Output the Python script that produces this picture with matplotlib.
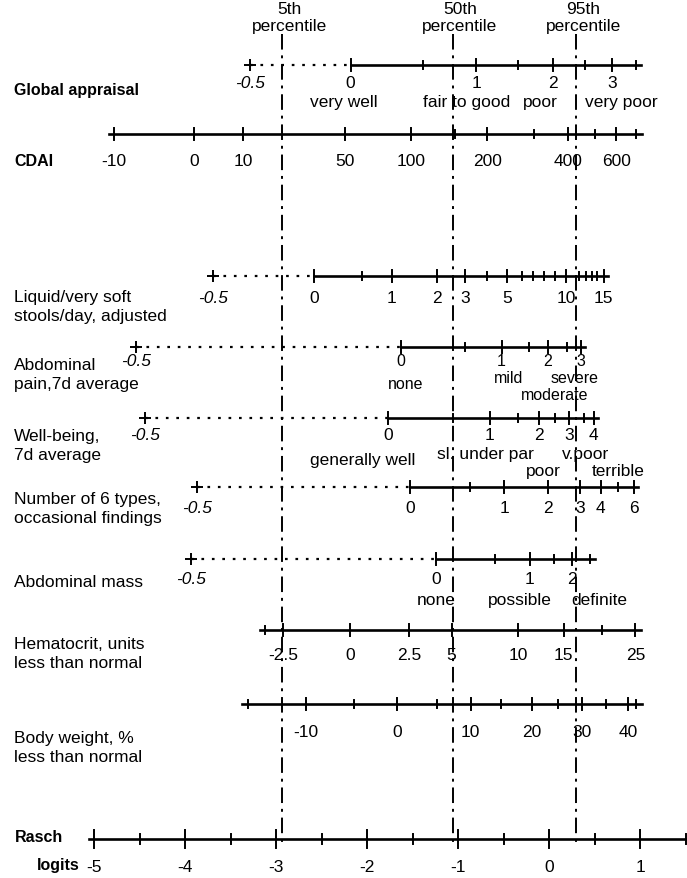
import matplotlib.pyplot as plt

plt.rcParams['font.family'] = ['Liberation Sans', 'DejaVu Sans']

# Every scale is placed on the Rasch logit axis: for each printed value
# the logit where its tick sits.

RASCH_TICKS = [-5, -4.5, -4, -3.5, -3, -2.5, -2, -1.5, -1, -0.5, 0, 0.5, 1, 1.5]
RASCH_LABELS = ['-5', '', '-4', '', '-3', '', '-2', '', '-1', '', '0', '', '1', '']

PCT_NAMES = ['5th', '50th', '95th']
PCT_LOGITS = [-2.93, -1.06, 0.30]

GA_LOGITS = [-3.29, -2.18, -1.38, -0.80, -0.34, 0.04, 0.40, 0.69, 0.96]
GA_LABELS = ['-0.5', '0', '', '1', '', '2', '', '3', '']
GA_DESC = ['very well', 'fair to good', 'poor', 'very poor']
GA_DESC_LOGITS = [-2.25, -0.90, -0.10, 0.80]

CDAI_LOGITS = [-4.78, -3.90, -3.36, -2.24, -1.52, -1.03, -0.68, -0.16, 0.21, 0.51, 0.74, 0.96]
CDAI_LABELS = ['-10', '0', '10', '50', '100', '', '200', '', '400', '', '600', '']

STOOL_LOGITS = [-3.69, -2.58, -2.05, -1.73, -1.23, -0.92, -0.68, -0.46, -0.30, -0.18,
                -0.05, 0.07, 0.19, 0.33, 0.41, 0.47, 0.53, 0.60]
STOOL_LABELS = ['-0.5', '0', '', '1', '2', '3', '', '5', '', '', '', '', '10', '', '', '', '', '15']

PAIN_LOGITS = [-4.54, -1.63, -0.92, -0.52, -0.22, -0.01, 0.20, 0.35]
PAIN_LABELS = ['-0.5', '0', '', '1', '', '2', '', '3']
PAIN_DESC = ['none', 'mild', 'moderate', 'severe']
PAIN_DESC_LOGITS = [-1.58, -0.44, 0.06, 0.28]

WELL_LOGITS = [-4.44, -1.77, -1.05, -0.65, -0.34, -0.11, 0.07, 0.22, 0.38, 0.49]
WELL_LABELS = ['-0.5', '0', '', '1', '', '2', '', '3', '', '4']
WELL_DESC = ['generally well', 'sl. under par', 'poor', 'v.poor', 'terrible']
WELL_DESC_LOGITS = [-2.05, -0.70, -0.06, 0.40, 0.76]

FIND_LOGITS = [-3.87, -1.53, -0.87, -0.49, -0.01, 0.34, 0.57, 0.76, 0.93]
FIND_LABELS = ['-0.5', '0', '', '1', '2', '3', '4', '', '6']

MASS_LOGITS = [-3.93, -1.24, -0.59, -0.21, 0.05, 0.25, 0.45]
MASS_LABELS = ['-0.5', '0', '', '1', '', '2', '']
MASS_DESC = ['none', 'possible', 'definite']
MASS_DESC_LOGITS = [-1.24, -0.32, 0.55]

HCT_LOGITS = [-3.12, -2.92, -2.19, -1.54, -1.07, -0.34, 0.16, 0.58, 0.95]
HCT_LABELS = ['', '-2.5', '0', '2.5', '5', '10', '15', '', '25']

BW_LOGITS = [-3.31, -2.67, -2.14, -1.67, -1.23, -0.86, -0.53, -0.19, 0.10, 0.36, 0.63, 0.87, 0.96]
BW_LABELS = ['', '-10', '', '0', '', '10', '', '20', '', '30', '', '40', '']

FS = 12.5
FS_BOLD = 11.5

fig = plt.figure(figsize=(6.87, 8.79), dpi=100)
ax = fig.add_axes([0, 0, 1, 1])
# x in logits (91 px per logit, 0 at px 549), y in pixel rows
ax.set_xlim(-549 / 91, 138 / 91)
ax.set_ylim(879, 0)
ax.axis('off')
left = ax.get_yaxis_transform()


def draw_scale(y, logits, labels, dotted=False, label_dy=18, major=6, minor=4, fs=FS):
    lo, hi = logits[0], logits[-1]
    if dotted:
        ax.plot([lo, logits[1]], [y, y], color='black', lw=1.6, ls=(0, (1.2, 3.5)))
        ax.plot(lo, y, marker='+', ms=8, mew=1.4, color='black')
        ax.plot([logits[1], hi + 0.05], [y, y], color='black', lw=1.9)
        ticks = list(zip(logits, labels))[1:]
    else:
        ax.plot([lo - 0.06, hi + 0.06], [y, y], color='black', lw=1.9)
        ticks = list(zip(logits, labels))
    for L, lab in ticks:
        h = major if lab else minor
        ax.plot([L, L], [y - h, y + h], color='black', lw=1.4)
    for L, lab in zip(logits, labels):
        if lab:
            italic = lab == '-0.5'
            ax.text(L, y + label_dy, lab, ha='center', va='center',
                    fontsize=FS if italic else fs, style='italic' if italic else 'normal')


def draw_desc(y, texts, logits, dys, fs=FS):
    for t, L, dy in zip(texts, logits, dys):
        ax.text(L, y + dy, t, ha='center', va='center', fontsize=fs)


def row_label(y, lines, bold=False, x=14):
    for i, s in enumerate(lines):
        ax.text(x / 687, y + i * 19, s, transform=left, ha='left', va='center',
                fontsize=FS_BOLD if bold else FS, fontweight='bold' if bold else 'normal')


# percentile guide lines
for name, L in zip(PCT_NAMES, PCT_LOGITS):
    ax.plot([L, L], [35, 845], color='black', lw=1.4, ls=(0, (8, 3, 1.5, 3)))
    ax.text(L + 0.08, 10, name, ha='center', va='center', fontsize=FS)
    ax.text(L + 0.08, 27, 'percentile', ha='center', va='center', fontsize=FS)

# Global appraisal
draw_scale(66, GA_LOGITS, GA_LABELS, dotted=True, label_dy=17)
draw_desc(66, GA_DESC, GA_DESC_LOGITS, [37] * 4)
row_label(90, ['Global appraisal'], bold=True)

# CDAI
draw_scale(135, CDAI_LOGITS, CDAI_LABELS, label_dy=27)
row_label(162, ['CDAI'], bold=True)

# Liquid stools
draw_scale(277, STOOL_LOGITS, STOOL_LABELS, dotted=True, label_dy=22)
row_label(298, ['Liquid/very soft', 'stools/day, adjusted'])

# Abdominal pain (numbers and words stacked tightly)
draw_scale(348, PAIN_LOGITS, PAIN_LABELS, dotted=True, label_dy=14, fs=11.5)
draw_desc(348, PAIN_DESC, PAIN_DESC_LOGITS, [37, 31, 48, 31], fs=11.5)
row_label(366, ['Abdominal', 'pain,7d average'])

# Well-being
draw_scale(419, WELL_LOGITS, WELL_LABELS, dotted=True, label_dy=17)
draw_desc(419, WELL_DESC, WELL_DESC_LOGITS, [42, 36, 53, 36, 53])
row_label(437, ['Well-being,', '7d average'])

# Number of findings
draw_scale(488, FIND_LOGITS, FIND_LABELS, dotted=True, label_dy=21)
row_label(500, ['Number of 6 types,', 'occasional findings'])

# Abdominal mass
draw_scale(560, MASS_LOGITS, MASS_LABELS, dotted=True, label_dy=20)
draw_desc(560, MASS_DESC, MASS_DESC_LOGITS, [41] * 3)
row_label(583, ['Abdominal mass'])

# Hematocrit
draw_scale(631, HCT_LOGITS, HCT_LABELS, label_dy=25)
row_label(645, ['Hematocrit, units', 'less than normal'])

# Body weight
draw_scale(705, BW_LOGITS, BW_LABELS, label_dy=28)
row_label(739, ['Body weight, %', 'less than normal'])

# Rasch logits
ax.plot([RASCH_TICKS[0] - 0.06, 1.6], [840, 840], color='black', lw=1.9)
for L, lab in zip(RASCH_TICKS, RASCH_LABELS):
    h = 9 if lab else 5
    ax.plot([L, L], [840 - h, 840 + h], color='black', lw=1.4)
    if lab:
        ax.text(L, 868, lab, ha='center', va='center', fontsize=FS)
ax.text(15 / 687, 838, 'Rasch', transform=left, ha='left', va='center',
        fontsize=FS_BOLD, fontweight='bold')
ax.text(37 / 687, 866, 'logits', transform=left, ha='left', va='center',
        fontsize=FS_BOLD, fontweight='bold')

fig.savefig('out.png', dpi=100, facecolor='white')
